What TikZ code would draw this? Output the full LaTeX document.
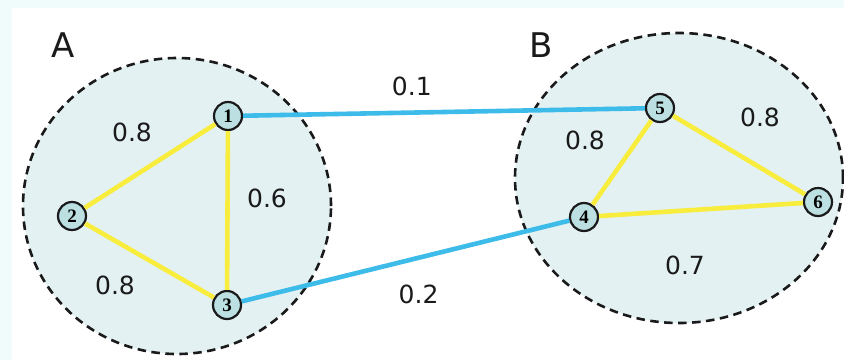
\documentclass[tikz,border=0pt]{standalone}
\usepackage{fontspec}
\setmainfont{DejaVu Sans}
\newfontfamily\numfont{Liberation Serif}
\usetikzlibrary{positioning,shapes.geometric}
\definecolor{cluster}{HTML}{E3F1F3}
\definecolor{vertfill}{HTML}{BCDFE2}
\definecolor{intra}{HTML}{F8EC3C}
\definecolor{inter}{HTML}{3DBBE9}
\definecolor{frame}{HTML}{F0FBFC}
\definecolor{ink}{HTML}{1A1A1A}

\begin{document}
\begin{tikzpicture}[x=1pt, y=-1pt,
  group/.style={draw=ink, ellipse, dash pattern=on 8.5pt off 5.5pt, line width=2.6pt,
                fill=cluster, inner sep=0pt},
  vert/.style={draw=ink, circle, line width=2.2pt, fill=vertfill, minimum size=28pt,
               inner sep=0pt, font=\numfont\bfseries\fontsize{19}{19}\selectfont},
  weight/.style={font=\fontsize{25}{30}\selectfont, text=ink},
  tag/.style={font=\fontsize{34}{40}\selectfont, text=ink},
  inlink/.style={draw=intra, line width=4.6pt},
  outlink/.style={draw=inter, line width=4.6pt}
]
\useasboundingbox (0,0) rectangle (844,360);
\fill[frame] (0,0) rectangle (844,360);
\fill[white] (12,8) rectangle (844,360);

% the two groups
\node[group, minimum width=308pt, minimum height=296pt] (grpA) at (177,206) {};
\node[group, minimum width=328pt, minimum height=290pt] (grpB) at (679,178) {};
\node[tag] (tagA) at (63,45) {A};
\node[tag] (tagB) at (541,45) {B};

% vertices
\node[vert] (v1) at (228,116) {1};
\node[vert] (v2) at (72,216) {2};
\node[vert] (v3) at (227,305) {3};
\node[vert] (v4) at (584,217) {4};
\node[vert] (v5) at (660,108) {5};
\node[vert] (v6) at (818,202) {6};

% links inside the groups
\draw[inlink] (v1) -- (v2);
\draw[inlink] (v2) -- (v3);
\draw[inlink] (v1) -- (v3);
\draw[inlink] (v4) -- (v5);
\draw[inlink] (v5) -- (v6);
\draw[inlink] (v4) -- (v6);

% links between the groups
\draw[outlink] (v1) -- node[weight, pos=0.42, above=11pt] (w15) {0.1} (v5);
\draw[outlink] (v3) -- node[weight, pos=0.54, below=22pt] (w34) {0.2} (v4);

% weights
\node[weight] (w12) at (132,132) {0.8};
\node[weight] (w23) at (115,285) {0.8};
\node[weight] (w13) at (267,198) {0.6};
\node[weight] (w45) at (585,140) {0.8};
\node[weight] (w56) at (760,117) {0.8};
\node[weight] (w46) at (685,265) {0.7};
\end{tikzpicture}
\end{document}
